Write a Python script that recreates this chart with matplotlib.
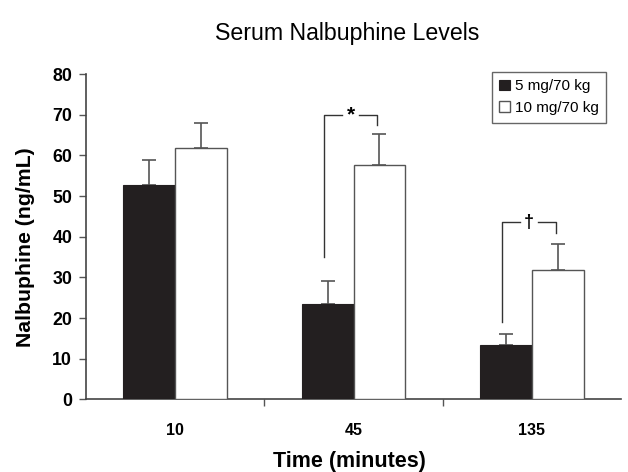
import numpy as np
import matplotlib
matplotlib.use("Agg")
import matplotlib.pyplot as plt
from matplotlib.ticker import FixedLocator

plt.rcParams["font.family"] = ["Liberation Sans", "DejaVu Sans"]

times = ["10", "45", "135"]
low_dose = [52.6, 23.5, 13.4]      # 5 mg/70 kg
low_err = [6.3, 5.5, 2.6]
high_dose = [61.9, 57.6, 31.8]     # 10 mg/70 kg
high_err = [6.0, 7.6, 6.5]

# significance brackets: group index, left foot, top, right foot, symbol
brackets = [(1, 34.9, 70.0, 67.6, "*"), (2, 19.1, 43.6, 41.0, "\u2020")]

x = np.arange(len(times))
w = 0.29

fig = plt.figure(figsize=(6.28, 4.72), dpi=100)
ax = fig.add_axes([0.137, 0.154, 0.852, 0.689])

ax.bar(x - w / 2, low_dose, w, color="#231f20", edgecolor="#231f20", lw=0.8,
       label="5 mg/70 kg", zorder=3)
ax.bar(x + w / 2, high_dose, w, color="white", edgecolor="#555555", lw=1.0,
       label="10 mg/70 kg", zorder=3)
ax.errorbar(x - w / 2, low_dose, yerr=[np.zeros(3), low_err], fmt="none",
            ecolor="#555555", elinewidth=1.2, capsize=5, capthick=1.2, zorder=2)
ax.errorbar(x + w / 2, high_dose, yerr=[np.zeros(3), high_err], fmt="none",
            ecolor="#555555", elinewidth=1.2, capsize=5, capthick=1.2, zorder=2)

for g, yl, yt, yr, sym in brackets:
    xl = g - w / 2 - 0.022
    xr = g + w / 2 - 0.012
    xm = (xl + xr) / 2
    ax.plot([xl, xl, xm - 0.05], [yl, yt, yt], color="#333333", lw=1.0)
    ax.plot([xm + 0.05, xr, xr], [yt, yt, yr], color="#333333", lw=1.0)
    ax.text(xm, yt, sym, ha="center", va="center", fontsize=15 if sym == "*" else 13,
            fontweight="bold")

ax.set_xlim(-0.5, 2.5)
ax.set_ylim(0, 80)
ax.set_yticks(range(0, 81, 10))
ax.set_xticks(x)
ax.set_xticklabels(times)
ax.xaxis.set_minor_locator(FixedLocator([0.5, 1.5]))
ax.tick_params(axis="x", which="major", length=0, pad=17)
ax.tick_params(axis="x", which="minor", length=5, width=1, color="#555555", direction="out")
ax.tick_params(axis="y", length=5, width=1, color="#555555", direction="out", pad=5)
for lab in ax.get_xticklabels():
    lab.set_fontweight("bold")
    lab.set_fontsize(11.5)
for lab in ax.get_yticklabels():
    lab.set_fontweight("bold")
    lab.set_fontsize(12.8)
for s in ["top", "right"]:
    ax.spines[s].set_visible(False)
for s in ["left", "bottom"]:
    ax.spines[s].set_color("#444444")
    ax.spines[s].set_linewidth(1.2)

ax.set_ylabel("Nalbuphine (ng/mL)", fontsize=15.3, fontweight="bold", va="center")
ax.yaxis.set_label_coords(-0.114, 0.469)
ax.set_xlabel("Time (minutes)", fontsize=15.5, fontweight="bold", va="baseline")
ax.xaxis.set_label_coords(0.493, -0.208)
fig.text(0.553, 0.915, "Serum Nalbuphine Levels", ha="center", va="baseline", fontsize=16.7)

leg = ax.legend(loc="upper right", bbox_to_anchor=(0.972, 1.007), fontsize=11,
                handlelength=0.7, handleheight=0.7, handletextpad=0.3, borderaxespad=0,
                fancybox=False, framealpha=1, borderpad=0.5, labelspacing=0.5)
leg.get_frame().set_edgecolor("#666666")
leg.get_frame().set_linewidth(1.0)

fig.savefig("out.png", dpi=100)
